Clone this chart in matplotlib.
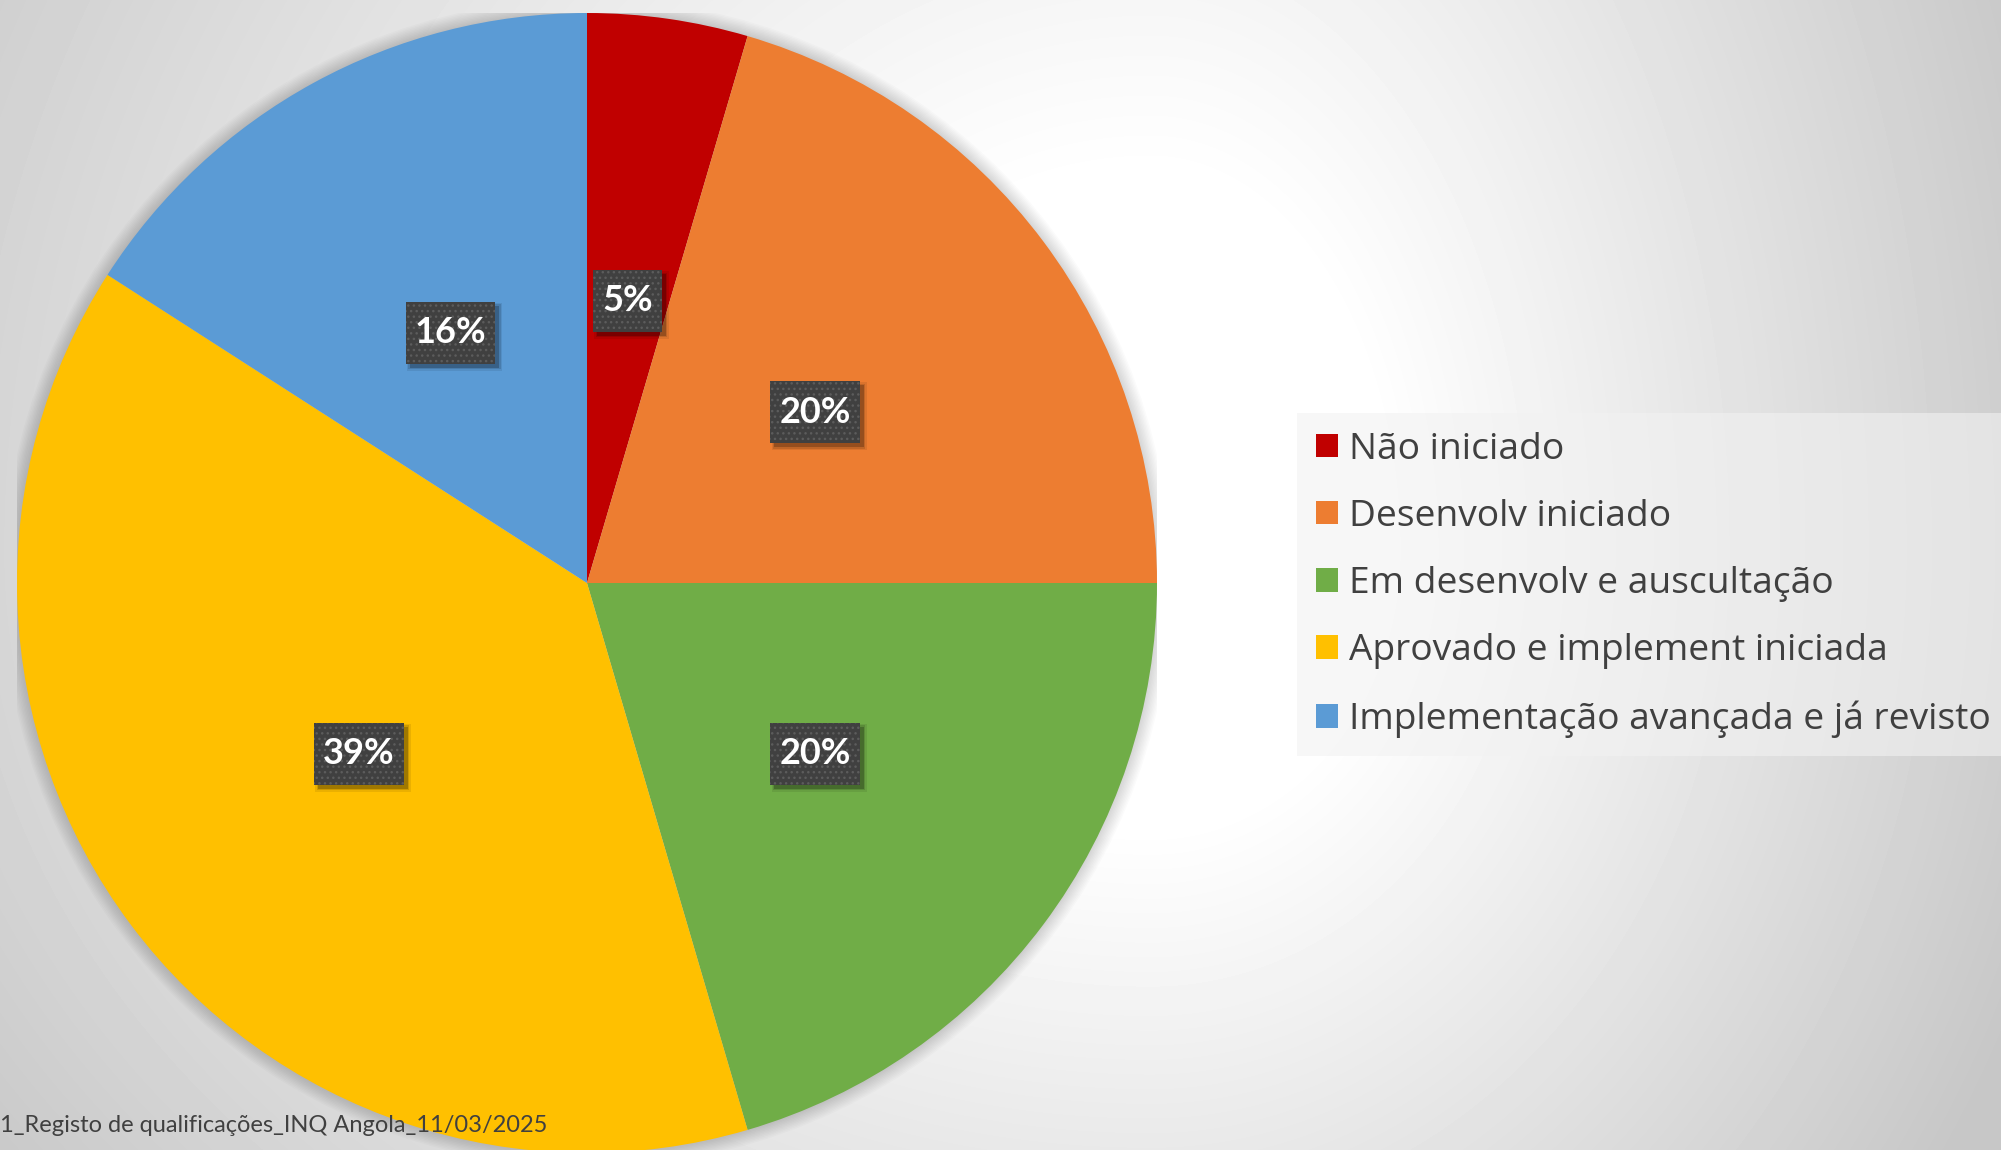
import numpy as np
import matplotlib
matplotlib.use("Agg")
import matplotlib.pyplot as plt
from matplotlib.patches import Circle
from matplotlib.path import Path
import matplotlib.transforms as mtransforms

# Counts of qualifications by development stage
categories = ["Não iniciado", "Desenvolv iniciado", "Em desenvolv e auscultação",
              "Aprovado e implement iniciada", "Implementação avançada e já revisto"]
counts = [2, 9, 9, 17, 7]
colors = ["#C00000", "#ED7D31", "#70AD47", "#FFC000", "#5B9BD5"]
footer = "1_Registo de qualificações_INQ Angola_11/03/2025"

W, H = 2001, 1150
DPI = 100
fig = plt.figure(figsize=(W / DPI, H / DPI), dpi=DPI)

# Soft radial background: white glow right of the pie, fading to grey
bg_ax = fig.add_axes([0, 0, 1, 1], zorder=-10)
yy, xx = np.mgrid[0:H, 0:W]
cx, cy = 1150, 550
sx = np.where(xx > cx, 950.0, 1440.0)
sy = np.where(yy < cy, 1500.0, 1100.0)
d = np.hypot((xx - cx) / sx, (yy - cy) / sy)
t = np.clip((d - 0.25) / 0.75, 0, 1)
g = 1 - 0.22 * t
bg_ax.imshow(g, cmap="gray", vmin=0, vmax=1, extent=[0, W, H, 0],
             aspect="auto", interpolation="bilinear")
bg_ax.set_axis_off()

# Pie axes, square in pixels
R, pcx, pcy = 570, 587, 583
ax = fig.add_axes([(pcx - R) / W, (H - pcy - R) / H, 2 * R / W, 2 * R / H])

# faint halo around the pie
for i in range(10):
    ax.add_patch(Circle((0, 0), 1 + 0.0025 * (i + 1), color="black",
                        alpha=0.015, lw=0, zorder=0))

wedges, texts, autotexts = ax.pie(
    counts, colors=colors, startangle=90, counterclock=False, radius=1,
    autopct=lambda p: f"{p:.0f}%", pctdistance=0.5,
    wedgeprops=dict(linewidth=0, zorder=1))
ax.set_xlim(-1, 1)
ax.set_ylim(-1, 1)
ax.set_aspect("equal")
ax.axis("off")


def make_box(padx, pady, grow=0.0):
    """Rectangular label box with separate horizontal/vertical padding."""
    def box(x0, y0, width, height, mutation_size):
        px = (padx + grow) * mutation_size
        py = (pady + grow) * mutation_size
        x1, y1 = x0 + width + px, y0 + height + py
        xa, ya = x0 - px, y0 - py
        return Path([(xa, ya), (x1, ya), (x1, y1), (xa, y1), (xa, ya)],
                     [Path.MOVETO, Path.LINETO, Path.LINETO, Path.LINETO, Path.CLOSEPOLY])
    return box


PADX, PADY = 0.25, 0.40
shadow_tr = mtransforms.offset_copy(ax.transData, fig=fig, x=4, y=-4, units="dots")
for at in autotexts:
    at.set(color="white", fontweight="bold", family="Lato", fontsize=26, zorder=4)
    at.set_bbox(dict(boxstyle=make_box(PADX, PADY), fc="#404040", ec="#5c5c5c",
                     lw=0, hatch="..."))
    x, y = at.get_position()
    for grow, alpha in [(0.08, 0.08), (0.04, 0.12), (0.0, 0.22)]:
        sh = ax.text(x, y, at.get_text(), transform=shadow_tr, ha="center", va="center",
                     fontweight="bold", family="Lato", fontsize=26, color="none", zorder=3)
        sh.set_bbox(dict(boxstyle=make_box(PADX, PADY, grow), fc="black",
                         alpha=alpha, lw=0))

leg_fs = 26.75
fs_px = leg_fs * DPI / 72
leg = fig.legend(wedges, categories, loc="upper left", mode="expand",
                 bbox_to_anchor=(1297 / W, 1 - 750 / H, (W - 1297) / W, 337 / H),
                 bbox_transform=fig.transFigure,
                 frameon=True, fancybox=False, prop=dict(family="Open Sans", size=leg_fs),
                 labelcolor="#404040", handlelength=22 / fs_px, handleheight=22 / fs_px,
                 handletextpad=11 / fs_px, labelspacing=0.84, borderpad=0.50,
                 borderaxespad=0)
frame = leg.get_frame()
frame.set_facecolor("#f2f2f2")
frame.set_alpha(0.6)
frame.set_linewidth(0)

fig.text(0, 1 - 1126 / H, footer, ha="left", va="center", fontsize=17,
         family="Lato", color="#404040")

fig.savefig("out.png", dpi=DPI)
